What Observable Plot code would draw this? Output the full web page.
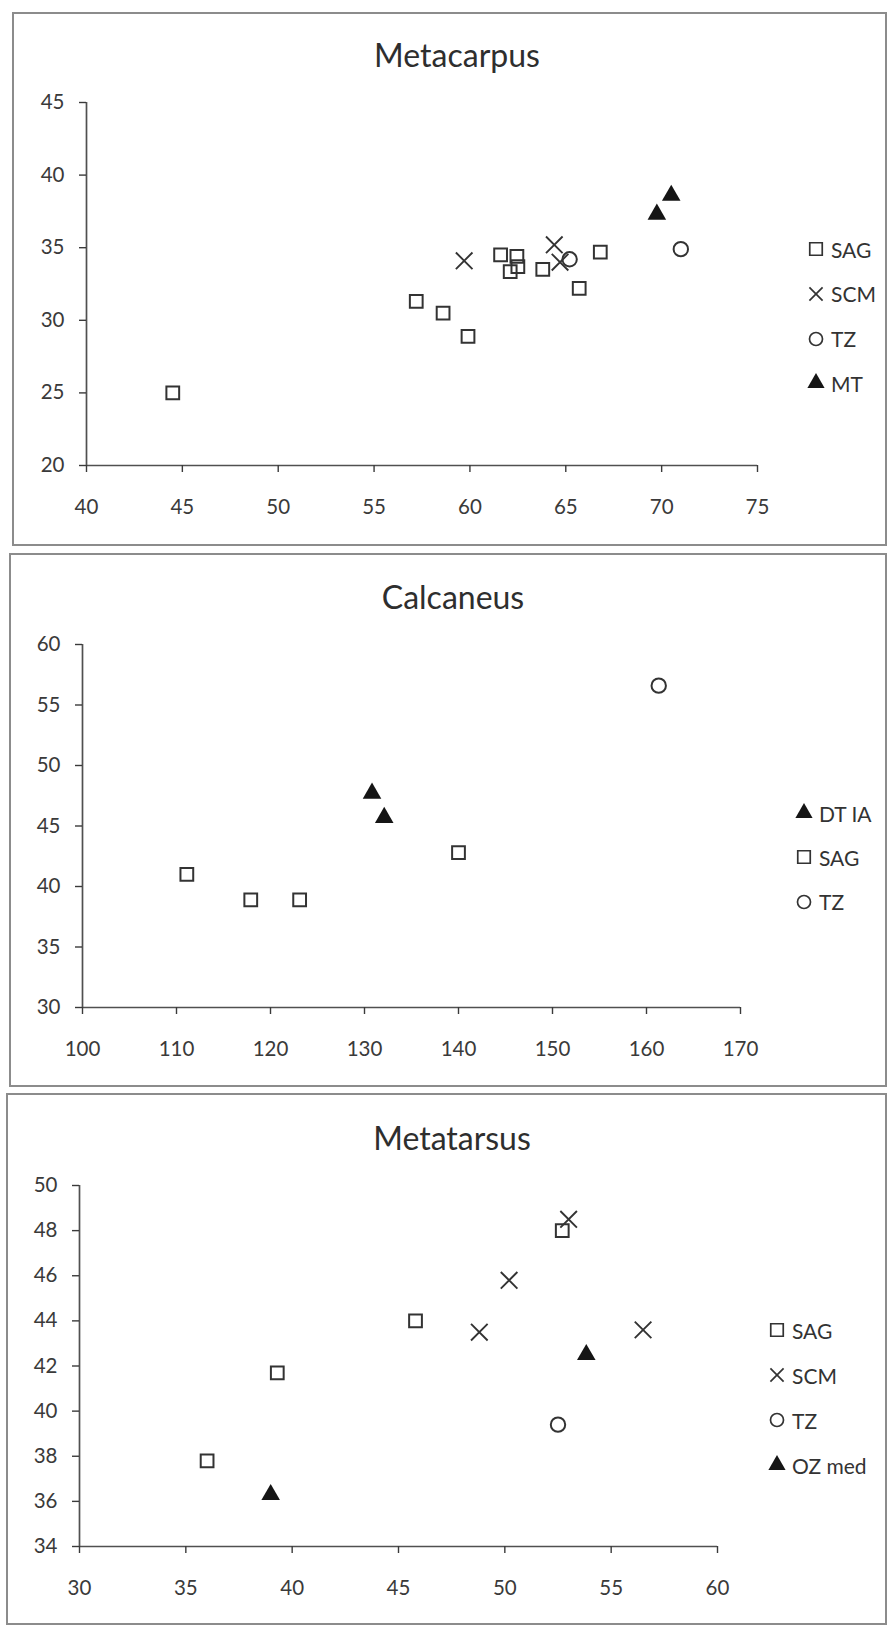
<!DOCTYPE html>
<html><head><meta charset="utf-8">
<script src="https://cdn.jsdelivr.net/npm/d3@7"></script>
<script src="https://cdn.jsdelivr.net/npm/@observablehq/plot@0.6"></script>
<style>
html,body{margin:0;padding:0;background:#fff;}
#page{position:relative;width:889px;height:1627px;overflow:hidden;font-family:Lato,sans-serif;color:#333;background:#fff;}
.frame{position:absolute;border:2px solid #8c8c8c;box-sizing:border-box;}
.title{position:absolute;transform:translate(-50%,-50%);font-size:32px;line-height:1;white-space:nowrap;color:#2e2e2e;}
.plot{position:absolute;left:0;}
.leg{position:absolute;}
.row{position:absolute;left:0;display:flex;align-items:center;height:20px;white-space:nowrap;font-size:21px;line-height:1;color:#333;}
.row span{margin-left:6px;}
</style></head><body><div id="page"></div>
<script>
// ---------- DATA ----------
// Metacarpus
const metacarpusXTicks = [40, 45, 50, 55, 60, 65, 70, 75];
const metacarpusYTicks = [20, 25, 30, 35, 40, 45];
const metacarpusSAG = [[44.5, 25.0], [57.2, 31.3], [58.6, 30.5], [59.9, 28.9], [61.6, 34.5], [62.45, 34.4], [62.1, 33.35], [62.5, 33.7], [63.8, 33.5], [65.7, 32.2], [66.8, 34.7]];
const metacarpusSCM = [[59.7, 34.1], [64.4, 35.2], [64.7, 34.0]];
const metacarpusTZ = [[65.2, 34.2], [71.0, 34.9]];
const metacarpusMT = [[69.75, 37.3], [70.5, 38.6]];

// Calcaneus
const calcaneusXTicks = [100, 110, 120, 130, 140, 150, 160, 170];
const calcaneusYTicks = [30, 35, 40, 45, 50, 55, 60];
const calcaneusDTIA = [[130.8, 47.7], [132.1, 45.7]];
const calcaneusSAG = [[111.1, 41.0], [117.9, 38.9], [123.1, 38.9], [140.0, 42.8]];
const calcaneusTZ = [[161.3, 56.6]];

// Metatarsus
const metatarsusXTicks = [30, 35, 40, 45, 50, 55, 60];
const metatarsusYTicks = [34, 36, 38, 40, 42, 44, 46, 48, 50];
const metatarsusSAG = [[36.0, 37.8], [39.3, 41.7], [45.8, 44.0], [52.7, 48.0]];
const metatarsusSCM = [[53.0, 48.5], [50.2, 45.8], [48.8, 43.5], [56.5, 43.6]];
const metatarsusTZ = [[52.5, 39.4]];
const metatarsusOZmed = [[38.99, 36.3], [53.83, 42.5]];

// ---------- STYLES ----------
const INK = "#333";
const symbolStyle = {
  square:   {symbol: "square",   r: 7.2, fill: "none", stroke: INK, strokeWidth: 2},
  times:    {symbol: "times",    r: 7.6, fill: "none", stroke: INK, strokeWidth: 1.9},
  circle:   {symbol: "circle",   r: 7.2, fill: "none", stroke: INK, strokeWidth: 2},
  triangle: {symbol: "triangle", r: 6.9, fill: "#151515", stroke: "none"}
};
const legendSymbol = {
  square:   {type: d3.symbolSquare,   size: 156, fill: "none", stroke: INK},
  times:    {type: d3.symbolTimes,    size: 115, fill: "none", stroke: INK},
  circle:   {type: d3.symbolCircle,   size: 133, fill: "none", stroke: INK},
  triangle: {type: d3.symbolTriangle, size: 128, fill: "#151515", stroke: "none"}
};

const panels = [
  {
    title: "Metacarpus", frame: {l: 12, t: 12, r: 887, b: 546},
    titlePos: {x: 457, y: 55},
    margins: {left: 86, right: 132, top: 90, bottom: 81},
    xTicks: metacarpusXTicks, yTicks: metacarpusYTicks,
    series: [
      {name: "SAG", data: metacarpusSAG, sym: "square"},
      {name: "SCM", data: metacarpusSCM, sym: "times"},
      {name: "TZ", data: metacarpusTZ, sym: "circle"},
      {name: "MT", data: metacarpusMT, sym: "triangle"}
    ],
    legend: {x: 816, y: 249, step: 44.8}
  },
  {
    title: "Calcaneus", frame: {l: 9, t: 553, r: 887, b: 1087},
    titlePos: {x: 453, y: 597},
    margins: {left: 82, right: 149, top: 91, bottom: 80},
    xTicks: calcaneusXTicks, yTicks: calcaneusYTicks,
    series: [
      {name: "DT IA", data: calcaneusDTIA, sym: "triangle"},
      {name: "SAG", data: calcaneusSAG, sym: "square"},
      {name: "TZ", data: calcaneusTZ, sym: "circle"}
    ],
    legend: {x: 804, y: 813, step: 44.3}
  },
  {
    title: "Metatarsus", frame: {l: 6, t: 1093, r: 887, b: 1625},
    titlePos: {x: 452, y: 1138},
    margins: {left: 79, right: 172, top: 92, bottom: 79},
    xTicks: metatarsusXTicks, yTicks: metatarsusYTicks,
    series: [
      {name: "SAG", data: metatarsusSAG, sym: "square"},
      {name: "SCM", data: metatarsusSCM, sym: "times"},
      {name: "TZ", data: metatarsusTZ, sym: "circle"},
      {name: "OZ med", data: metatarsusOZmed, sym: "triangle"}
    ],
    legend: {x: 777, y: 1330, step: 45}
  }
];

const page = document.getElementById("page");

for (const p of panels) {
  const f = p.frame;
  const frame = document.createElement("div");
  frame.className = "frame";
  Object.assign(frame.style, {left: f.l + "px", top: f.t + "px", width: (f.r - f.l) + "px", height: (f.b - f.t) + "px"});
  page.appendChild(frame);

  const xDomain = [p.xTicks[0], p.xTicks[p.xTicks.length - 1]];
  const yDomain = [p.yTicks[0], p.yTicks[p.yTicks.length - 1]];

  const marks = [
    Plot.ruleX([xDomain[0]], {y1: yDomain[0], y2: yDomain[1], stroke: "#505050", strokeWidth: 1.7}),
    Plot.ruleY([yDomain[0]], {x1: xDomain[0], x2: xDomain[1], stroke: "#505050", strokeWidth: 1.7}),
    Plot.axisX(p.xTicks, {anchor: "bottom", tickSize: 7, tickPadding: 27, tickFormat: d => String(d), label: null, color: "#3a3a3a", strokeWidth: 1.4}),
    Plot.axisY(p.yTicks, {anchor: "left", tickSize: 7, tickPadding: 15, tickFormat: d => String(d), label: null, color: "#3a3a3a", strokeWidth: 1.4})
  ];
  for (const s of p.series) {
    marks.push(Plot.dot(s.data, {x: d => d[0], y: d => d[1], ...symbolStyle[s.sym]}));
  }

  const svg = Plot.plot({
    width: 889,
    height: f.b - f.t,
    marginLeft: p.margins.left,
    marginRight: p.margins.right,
    marginTop: p.margins.top,
    marginBottom: p.margins.bottom,
    x: {domain: xDomain, axis: null},
    y: {domain: yDomain, axis: null},
    style: {fontFamily: "Lato, sans-serif", fontSize: "20.5px", color: "#3a3a3a", background: "transparent", overflow: "visible"},
    marks
  });
  svg.classList.add("plot");
  svg.style.position = "absolute";
  svg.style.left = "0px";
  svg.style.top = f.t + "px";
  page.appendChild(svg);

  const t = document.createElement("div");
  t.className = "title";
  t.textContent = p.title;
  t.style.left = p.titlePos.x + "px";
  t.style.top = p.titlePos.y + "px";
  page.appendChild(t);

  const leg = document.createElement("div");
  leg.className = "leg";
  leg.style.left = (p.legend.x - 9) + "px";
  leg.style.top = p.legend.y + "px";
  p.series.forEach((s, i) => {
    const row = document.createElement("div");
    row.className = "row";
    row.style.top = (i * p.legend.step - 10) + "px";
    const ls = legendSymbol[s.sym];
    const sv = d3.create("svg").attr("width", 18).attr("height", 18).style("overflow", "visible");
    sv.append("path")
      .attr("transform", "translate(9,9)")
      .attr("d", d3.symbol(ls.type, ls.size)())
      .attr("fill", ls.fill)
      .attr("stroke", ls.stroke)
      .attr("stroke-width", 1.7);
    row.appendChild(sv.node());
    const sp = document.createElement("span");
    sp.textContent = s.name;
    row.appendChild(sp);
    leg.appendChild(row);
  });
  page.appendChild(leg);
}
</script></body></html>
